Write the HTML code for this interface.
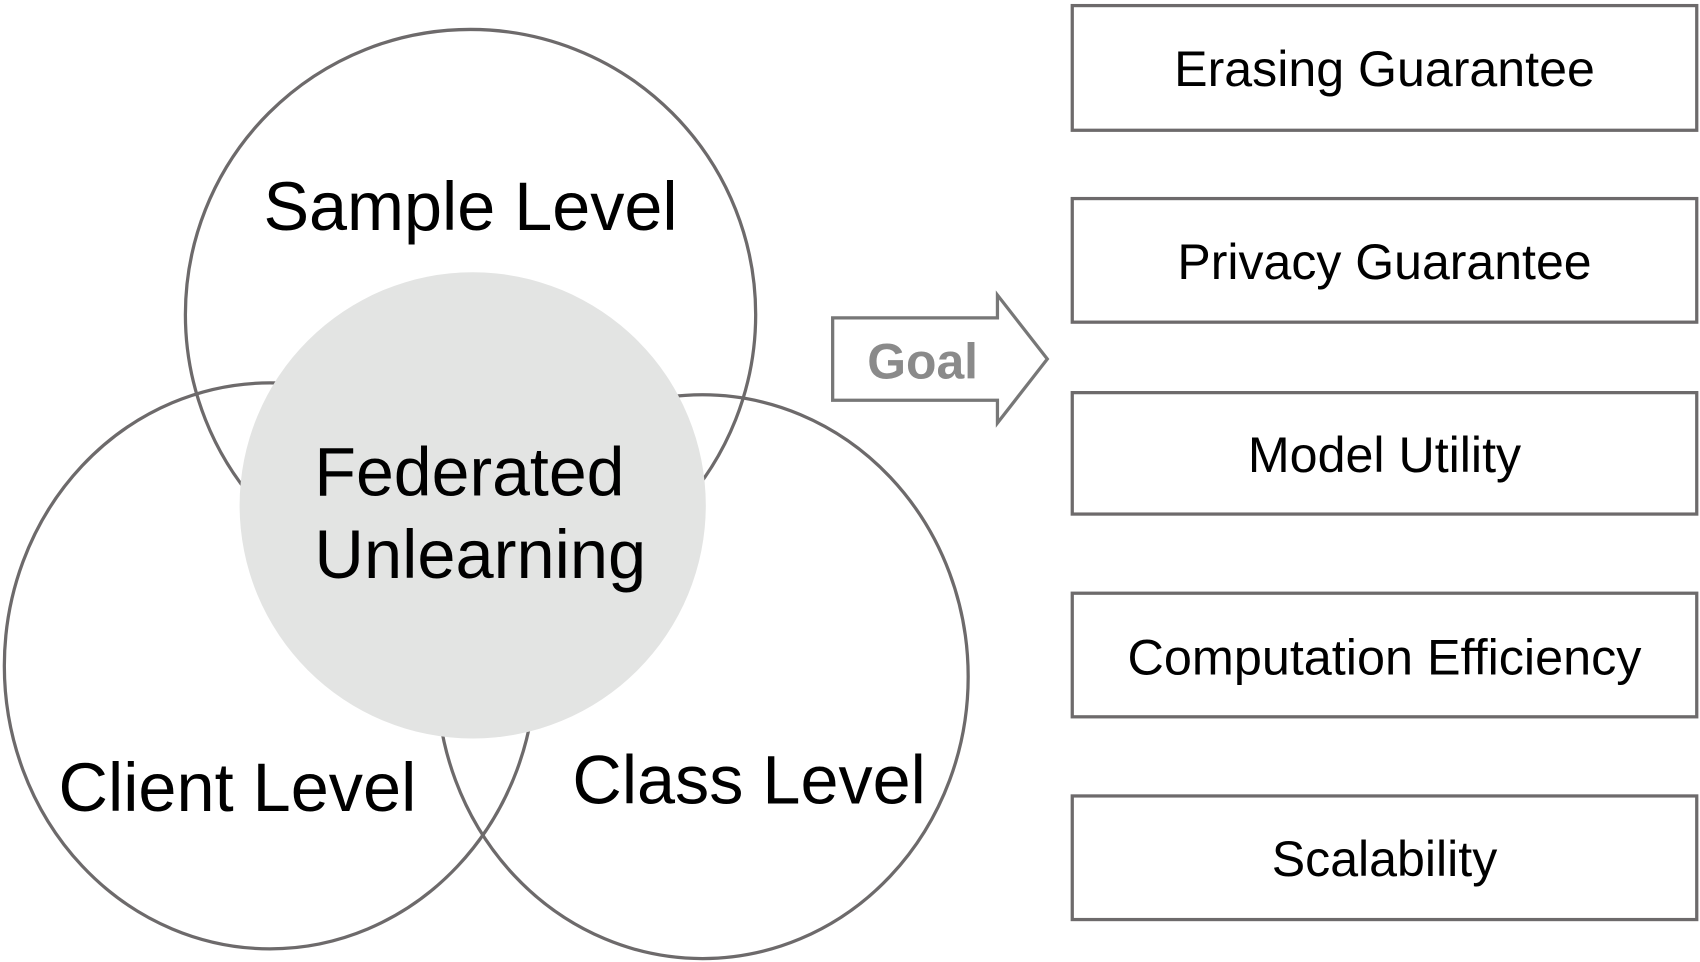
<!DOCTYPE html>
<html><head><meta charset="utf-8"><style>
html,body{margin:0;padding:0;background:#fff;}
svg{display:block;}
text{font-family:"Liberation Sans",Arial,sans-serif;}
</style></head><body>
<svg width="1700" height="962" viewBox="0 0 1568 887" xmlns="http://www.w3.org/2000/svg">
<g fill="none" stroke="#6d6a6b" stroke-width="3">
<circle cx="434" cy="290" r="263"/>
<ellipse cx="249" cy="614" rx="245" ry="261"/>
<ellipse cx="648" cy="624" rx="245" ry="260"/>
</g>
<circle cx="436" cy="466" r="215" fill="#e3e4e3"/>
<g fill="#000" font-size="63" text-anchor="middle">
<text x="434" y="212" textLength="382" lengthAdjust="spacingAndGlyphs">Sample Level</text>
<text x="219" y="748" textLength="330" lengthAdjust="spacingAndGlyphs">Client Level</text>
<text x="691" y="741" textLength="326" lengthAdjust="spacingAndGlyphs">Class Level</text>
<text x="290" y="457" text-anchor="start" textLength="286" lengthAdjust="spacingAndGlyphs">Federated</text>
<text x="290" y="533" text-anchor="start" textLength="306" lengthAdjust="spacingAndGlyphs">Unlearning</text>
</g>
<path d="M768 293 H920 V272 L966 331 L920 390 V369 H768 Z" fill="#fff" stroke="#777" stroke-width="3"/>
<text x="851" y="349" font-size="46" font-weight="bold" fill="#8a8a8a" text-anchor="middle">Goal</text>
<g fill="#fff" stroke="#6d6a6b" stroke-width="3">
<rect x="989" y="5" width="576" height="115"/>
<rect x="989" y="183" width="576" height="114"/>
<rect x="989" y="362" width="576" height="112"/>
<rect x="989" y="547" width="576" height="114"/>
<rect x="989" y="734" width="576" height="114"/>
</g>
<g fill="#000" font-size="46" text-anchor="middle">
<text x="1277" y="79" textLength="388" lengthAdjust="spacingAndGlyphs">Erasing Guarantee</text>
<text x="1277" y="257" textLength="382" lengthAdjust="spacingAndGlyphs">Privacy Guarantee</text>
<text x="1277" y="435" textLength="252" lengthAdjust="spacingAndGlyphs">Model Utility</text>
<text x="1277" y="622" textLength="474" lengthAdjust="spacingAndGlyphs">Computation Efficiency</text>
<text x="1277" y="808" textLength="208" lengthAdjust="spacingAndGlyphs">Scalability</text>
</g>
</svg>
</body></html>
